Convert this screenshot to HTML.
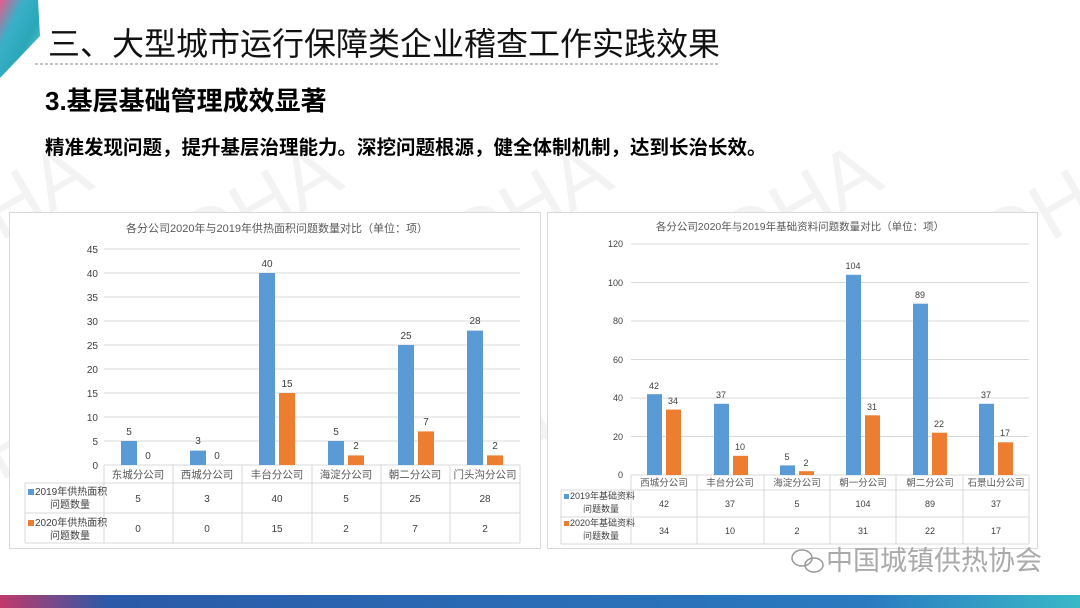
<!DOCTYPE html>
<html><head><meta charset="utf-8"><style>
html,body{margin:0;padding:0;background:#fff}
body{width:1080px;height:608px;position:relative;overflow:hidden;font-family:"Liberation Sans","Noto Sans CJK SC",sans-serif}
.t{position:absolute;white-space:nowrap}
</style></head><body>
<svg width="1080" height="608" style="position:absolute;left:0;top:0">
<defs>
<linearGradient id="tri" x1="0" y1="0" x2="1" y2="1">
<stop offset="0" stop-color="#e85a8a"/><stop offset="0.3" stop-color="#3ab0c8"/><stop offset="0.6" stop-color="#2aa7b8"/><stop offset="1" stop-color="#6bd3d8"/></linearGradient>
<linearGradient id="bot" x1="0" x2="1"><stop offset="0" stop-color="#c03a6a"/><stop offset="0.1" stop-color="#2a5aa8"/><stop offset="0.8" stop-color="#2a7ac0"/><stop offset="1" stop-color="#39b8c8"/></linearGradient>
</defs>
<g fill="#000" opacity="0.05" font-family="Liberation Sans" font-size="80" >
<text x="150" y="300" transform="rotate(-30 150 300)">CDHA</text>
<text x="420" y="300" transform="rotate(-30 420 300)">CDHA</text>
<text x="690" y="300" transform="rotate(-30 690 300)">CDHA</text>
<text x="950" y="300" transform="rotate(-30 950 300)">CDHA</text>
<text x="150" y="540" transform="rotate(-30 150 540)">CDHA</text>
<text x="420" y="540" transform="rotate(-30 420 540)">CDHA</text>
<text x="690" y="540" transform="rotate(-30 690 540)">CDHA</text>
<text x="-100" y="300" transform="rotate(-30 -100 300)">CDHA</text>
<text x="-100" y="540" transform="rotate(-30 -100 540)">CDHA</text>
</g>
<polygon points="0,0 38,0 40,36 0,78" fill="url(#tri)"/>
<line x1="35" y1="64" x2="720" y2="64" stroke="#888" stroke-dasharray="3,2" stroke-width="1"/>
<rect x="0" y="595" width="1080" height="13" fill="url(#bot)"/>

<rect x="9.5" y="212.5" width="531" height="336" fill="#fff" stroke="#d9d9d9"/>
<g stroke="#d9d9d9" stroke-width="1">
<line x1="104" x2="520" y1="249" y2="249"/><line x1="104" x2="520" y1="273" y2="273"/><line x1="104" x2="520" y1="297" y2="297"/><line x1="104" x2="520" y1="321" y2="321"/><line x1="104" x2="520" y1="345" y2="345"/><line x1="104" x2="520" y1="369" y2="369"/><line x1="104" x2="520" y1="393" y2="393"/><line x1="104" x2="520" y1="417" y2="417"/><line x1="104" x2="520" y1="441" y2="441"/>
<line x1="104" x2="520" y1="465" y2="465"/>
<line x1="25" x2="520" y1="483" y2="483"/><line x1="25" x2="520" y1="513" y2="513"/><line x1="25" x2="520" y1="543" y2="543"/>
<line x1="25" x2="25" y1="483" y2="543"/>
<line x1="104" x2="104" y1="465" y2="543"/><line x1="173" x2="173" y1="465" y2="543"/><line x1="242" x2="242" y1="465" y2="543"/><line x1="312" x2="312" y1="465" y2="543"/><line x1="381" x2="381" y1="465" y2="543"/><line x1="450" x2="450" y1="465" y2="543"/><line x1="520" x2="520" y1="465" y2="543"/>
</g>
<g font-size="10" fill="#404040" text-anchor="end">
<text x="98" y="253">45</text><text x="98" y="277">40</text><text x="98" y="301">35</text><text x="98" y="325">30</text><text x="98" y="349">25</text><text x="98" y="373">20</text><text x="98" y="397">15</text><text x="98" y="421">10</text><text x="98" y="445">5</text><text x="98" y="469">0</text>
</g>
<text x="277" y="232" font-size="11" fill="#595959" text-anchor="middle">各分公司2020年与2019年供热面积问题数量对比（单位：项）</text>
<g fill="#5b9bd5">
<rect x="121" y="441" width="16" height="24"/><rect x="190" y="450.6" width="16" height="14.4"/><rect x="259" y="273" width="16" height="192"/><rect x="328" y="441" width="16" height="24"/><rect x="398" y="345" width="16" height="120"/><rect x="467" y="330.6" width="16" height="134.4"/>
</g>
<g fill="#ed7d31">
<rect x="279" y="393" width="16" height="72"/><rect x="348" y="455.4" width="16" height="9.6"/><rect x="418" y="431.4" width="16" height="33.6"/><rect x="487" y="455.4" width="16" height="9.6"/>
</g>
<g font-size="10" fill="#404040" text-anchor="middle">
<text x="129" y="435">5</text><text x="148" y="459">0</text><text x="198" y="444">3</text><text x="217" y="459">0</text><text x="267" y="267">40</text><text x="287" y="387">15</text><text x="336" y="435">5</text><text x="356" y="449">2</text><text x="406" y="339">25</text><text x="426" y="425">7</text><text x="475" y="324">28</text><text x="495" y="449">2</text>
</g>
<g font-size="10.5" fill="#595959" text-anchor="middle">
<text x="138" y="478">东城分公司</text><text x="207" y="478">西城分公司</text><text x="277" y="478">丰台分公司</text><text x="346" y="478">海淀分公司</text><text x="415" y="478">朝二分公司</text><text x="485" y="478">门头沟分公司</text>
</g>
<g font-size="10" fill="#404040" text-anchor="middle">
<text x="138" y="502">5</text><text x="207" y="502">3</text><text x="277" y="502">40</text><text x="346" y="502">5</text><text x="415" y="502">25</text><text x="485" y="502">28</text>
<text x="138" y="532">0</text><text x="207" y="532">0</text><text x="277" y="532">15</text><text x="346" y="532">2</text><text x="415" y="532">7</text><text x="485" y="532">2</text>
</g>
<rect x="28" y="489" width="6" height="6" fill="#5b9bd5"/><rect x="28" y="520" width="6" height="6" fill="#ed7d31"/>
<g font-size="10" fill="#404040">
<text x="35" y="495">2019年供热面积</text><text x="50" y="508">问题数量</text>
<text x="35" y="526">2020年供热面积</text><text x="50" y="539">问题数量</text>
</g>

<rect x="547.5" y="212.5" width="490" height="336" fill="#fff" stroke="#d9d9d9"/>
<g stroke="#d9d9d9" stroke-width="1">
<line x1="631" x2="1029" y1="244" y2="244"/><line x1="631" x2="1029" y1="282.5" y2="282.5"/><line x1="631" x2="1029" y1="321" y2="321"/><line x1="631" x2="1029" y1="359.5" y2="359.5"/><line x1="631" x2="1029" y1="398" y2="398"/><line x1="631" x2="1029" y1="436.5" y2="436.5"/><line x1="631" x2="1029" y1="475" y2="475"/>
<line x1="561" x2="1029" y1="490" y2="490"/><line x1="561" x2="1029" y1="517" y2="517"/><line x1="561" x2="1029" y1="544" y2="544"/>
<line x1="561" x2="561" y1="490" y2="544"/>
<line x1="631" x2="631" y1="475" y2="544"/><line x1="697" x2="697" y1="475" y2="544"/><line x1="764" x2="764" y1="475" y2="544"/><line x1="830" x2="830" y1="475" y2="544"/><line x1="896" x2="896" y1="475" y2="544"/><line x1="963" x2="963" y1="475" y2="544"/><line x1="1029" x2="1029" y1="475" y2="544"/>
</g>
<g font-size="9" fill="#404040" text-anchor="end">
<text x="623" y="247">120</text><text x="623" y="286">100</text><text x="623" y="324">80</text><text x="623" y="363">60</text><text x="623" y="401">40</text><text x="623" y="440">20</text><text x="623" y="478">0</text>
</g>
<text x="800" y="230" font-size="10.5" fill="#595959" text-anchor="middle">各分公司2020年与2019年基础资料问题数量对比（单位：项）</text>
<g fill="#5b9bd5">
<rect x="647" y="394.2" width="15" height="80.8"/><rect x="714" y="403.8" width="15" height="71.2"/><rect x="780" y="465.4" width="15" height="9.6"/><rect x="846" y="274.8" width="15" height="200.2"/><rect x="913" y="303.7" width="15" height="171.3"/><rect x="979" y="403.8" width="15" height="71.2"/>
</g>
<g fill="#ed7d31">
<rect x="666" y="409.6" width="15" height="65.4"/><rect x="733" y="455.8" width="15" height="19.2"/><rect x="799" y="471.2" width="15" height="3.8"/><rect x="865" y="415.3" width="15" height="59.7"/><rect x="932" y="432.7" width="15" height="42.3"/><rect x="998" y="442.3" width="15" height="32.7"/>
</g>
<g font-size="9" fill="#404040" text-anchor="middle">
<text x="654" y="389">42</text><text x="673" y="404">34</text><text x="721" y="398">37</text><text x="740" y="450">10</text><text x="787" y="460">5</text><text x="806" y="466">2</text><text x="853" y="269">104</text><text x="872" y="410">31</text><text x="920" y="298">89</text><text x="939" y="427">22</text><text x="986" y="398">37</text><text x="1005" y="436">17</text>
</g>
<g font-size="9.5" fill="#595959" text-anchor="middle">
<text x="664" y="486">西城分公司</text><text x="730" y="486">丰台分公司</text><text x="797" y="486">海淀分公司</text><text x="863" y="486">朝一分公司</text><text x="930" y="486">朝二分公司</text><text x="996" y="486">石景山分公司</text>
</g>
<g font-size="9" fill="#404040" text-anchor="middle">
<text x="664" y="507">42</text><text x="730" y="507">37</text><text x="797" y="507">5</text><text x="863" y="507">104</text><text x="930" y="507">89</text><text x="996" y="507">37</text>
<text x="664" y="534">34</text><text x="730" y="534">10</text><text x="797" y="534">2</text><text x="863" y="534">31</text><text x="930" y="534">22</text><text x="996" y="534">17</text>
</g>
<rect x="564" y="494" width="5" height="5" fill="#5b9bd5"/><rect x="564" y="521" width="5" height="5" fill="#ed7d31"/>
<g font-size="9" fill="#404040">
<text x="570" y="499">2019年基础资料</text><text x="583" y="512">问题数量</text>
<text x="570" y="526">2020年基础资料</text><text x="583" y="539">问题数量</text>
</g>
<g fill="none" stroke="#999" stroke-width="1.5">
<ellipse cx="802" cy="558" rx="10" ry="8"/><ellipse cx="814" cy="565" rx="9" ry="7"/>
</g>
<text x="826" y="570" font-size="27" fill="#aaa" font-family="Noto Sans CJK SC,sans-serif">中国城镇供热协会</text>
</svg>
<div class="t" style="left:48px;top:19px;font-size:32px;color:#111;font-family:'Liberation Sans','Noto Sans CJK SC',sans-serif">三、大型城市运行保障类企业稽查工作实践效果</div>
<div class="t" style="left:45px;top:81px;font-size:26px;font-weight:bold;color:#000">3.基层基础管理成效显著</div>
<div class="t" style="left:45px;top:131px;font-size:19.5px;font-weight:bold;color:#000">精准发现问题，提升基层治理能力。深挖问题根源，健全体制机制，达到长治长效。</div>
</body></html>
